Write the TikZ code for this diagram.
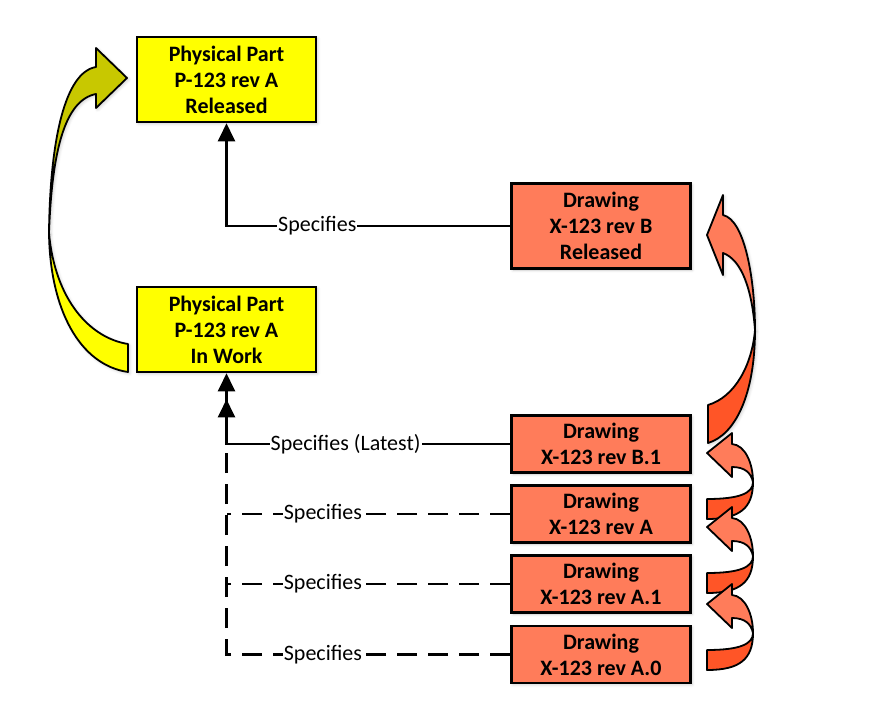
\documentclass[tikz,border=0pt]{standalone}
\usepackage{fontspec}
\setmainfont{Carlito}
\usetikzlibrary{arrows.meta,shadows.blur}

\definecolor{partyellow}{HTML}{FFFF00}
\definecolor{partolive}{HTML}{C8C800}
\definecolor{drworange}{HTML}{FF7C5A}
\definecolor{drwdark}{HTML}{FF5527}

\tikzset{
  glow/.style={blur shadow={shadow xshift=1.5pt, shadow yshift=-1.5pt, shadow blur radius=3pt, shadow opacity=20}},
  partbox/.style={draw, line width=2.6pt, fill=partyellow, minimum width=179pt, minimum height=85pt,
    inner sep=0pt, align=center, font=\bfseries\fontsize{22}{26}\selectfont, glow},
  drwbox/.style={partbox, fill=drworange},
  drwsmall/.style={drwbox, minimum height=57pt},
  link/.style={line width=2.4pt, -{Triangle[length=18pt,width=17pt]}},
  oldline/.style={line width=2.4pt, dash pattern=on 20pt off 11pt},
  oldlink/.style={oldline, -{Triangle[length=18pt,width=17pt]}},
  spec/.style={fill=white, inner sep=1pt, font=\fontsize{22}{26}\selectfont},
  bandback/.style={draw=black, line width=1.8pt, line join=round},
}

% Small revision arrow, #1 = y of the tip
\newcommand{\revarrow}[1]{%
  \filldraw[bandback, fill=drwdark] (753,#1+29) .. controls (753,#1+40) and (740,#1+46) .. (707,#1+46)
    -- (707,#1+66) .. controls (740,#1+66) and (753,#1+55) .. (753,#1+29) -- cycle;
  \filldraw[bandback, fill=drworange] (707,#1) -- (732,#1-20) -- (732,#1-9)
    .. controls (745,#1-8) and (753,#1+10) .. (753,#1+29)
    .. controls (751,#1+20) and (745,#1+14) .. (732,#1+14) -- (732,#1+24) -- cycle;
}

\begin{document}
\begin{tikzpicture}[x=1pt,y=-1pt]
\useasboundingbox (0,0) rectangle (872,720);

% Physical parts
\node[partbox] (partRel) at (226.5,79.5) {Physical Part\\P-123 rev A\\Released};
\node[partbox] (partWork) at (226.5,329.5) {Physical Part\\P-123 rev A\\In Work};

% Drawings
\node[drwbox] (drwB) at (601,226) {Drawing\\X-123 rev B\\Released};
\node[drwsmall] (drwBone) at (601,444) {Drawing\\X-123 rev B.1};
\node[drwsmall] (drwA) at (601,514) {Drawing\\X-123 rev A};
\node[drwsmall] (drwAone) at (601,584) {Drawing\\X-123 rev A.1};
\node[drwsmall] (drwAzero) at (601,654.5) {Drawing\\X-123 rev A.0};

% Specifies links
\coordinate (merge) at ([yshift=-26pt]partWork.south);
\draw[link] (drwB) -| node[spec, pos=0.34]{Specifies} (partRel);
\draw[oldlink] (drwAzero) -| node[spec, pos=0.33]{Specifies} (merge);
\draw[oldline] (drwA) -- node[spec, pos=0.66]{Specifies} (drwA -| merge);
\draw[oldline] (drwAone) -- node[spec, pos=0.66]{Specifies} (drwAone -| merge);
\draw[link] (drwBone) -| node[spec, pos=0.29]{Specifies (Latest)} (partWork);

% Release of the part
\filldraw[bandback, fill=partyellow, glow] (49,233) .. controls (50,310) and (80,365) .. (128,372)
  -- (128,344) .. controls (90,338) and (55,300) .. (49,233) -- cycle;
\filldraw[bandback, fill=partolive, glow] (127,78) -- (96,48) -- (96,67)
  .. controls (65,72) and (50,140) .. (49,233)
  .. controls (52,150) and (65,100) .. (96,94) -- (96,108) -- cycle;

% Release of the drawing
\filldraw[bandback, fill=drworange, glow] (707,235) -- (723,195) -- (723,215)
  .. controls (745,220) and (755,280) .. (755,330)
  .. controls (752,290) and (742,260) .. (723,253) -- (723,275) -- cycle;
\filldraw[bandback, fill=drwdark, glow] (755,330) .. controls (752,365) and (735,397) .. (708,405)
  -- (708,443) .. controls (735,435) and (755,395) .. (755,330) -- cycle;

% Revisions
\revarrow{453}
\revarrow{527}
\revarrow{604}

\end{tikzpicture}
\end{document}
